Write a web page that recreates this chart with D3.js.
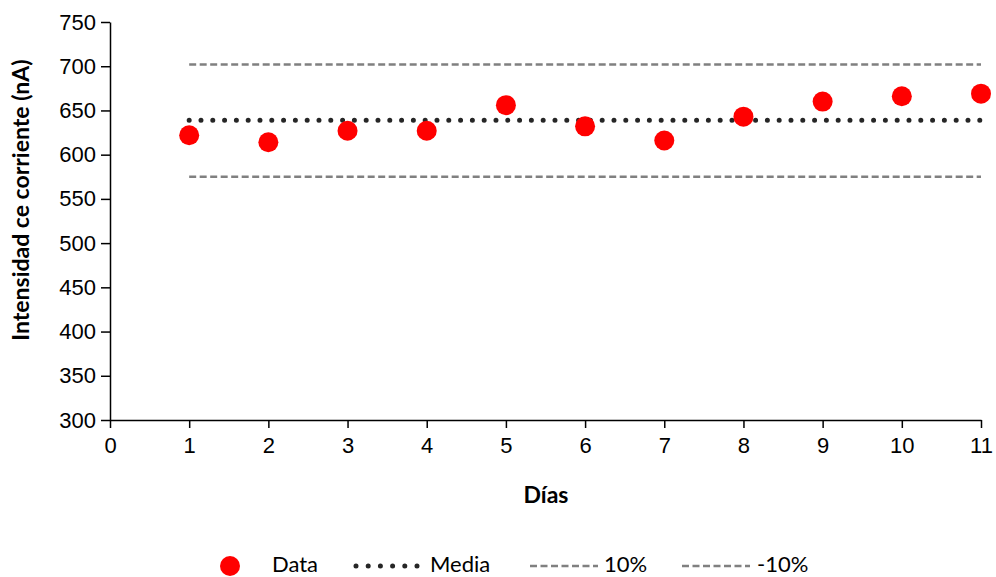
<!DOCTYPE html>
<html lang="es">
<head>
<meta charset="UTF-8">
<title>Intensidad de corriente</title>
<script src="https://cdnjs.cloudflare.com/ajax/libs/d3/7.8.5/d3.min.js"></script>
<style>
    body { margin: 0; background: #fff; }
    svg { display: block; font-family: Lato, "Open Sans", sans-serif; }
    .axis text { font-size: 22px; fill: #000; }
    .axis path, .axis line { stroke: #000; stroke-width: 1.5px; }
    .title { font-size: 23px; font-weight: bold; }
    .legend text { font-size: 22px; }
</style>
</head>
<body>
<svg id="chart" width="996" height="577"></svg>
<script>
    // data
    const days = [1, 2, 3, 4, 5, 6, 7, 8, 9, 10, 11];
    const current = [622, 614, 627, 627, 656, 632, 616, 643, 660, 666, 669];
    const mean = 639;
    const upper = 702;   // +10%
    const lower = 575;   // -10%
    const xTicks = d3.range(0, 12);
    const yTicks = d3.range(300, 751, 50);
    const legendLabels = ["Data", "Media", "10%", "-10%"];

    const svg = d3.select("#chart");
    const margin = {left: 110, top: 22, right: 15, bottom: 157};
    const height = 577 - margin.top - margin.bottom;

    const x = d3.scaleLinear().domain([0, 11]).range([0, 871]);
    const y = d3.scaleLinear().domain([300, 750]).range([height, 0]);

    const g = svg.append("g").attr("transform", `translate(${margin.left},${margin.top})`);

    g.append("g")
        .attr("class", "axis")
        .attr("transform", `translate(0,${height})`)
        .call(d3.axisBottom(x).tickValues(xTicks).tickSize(8).tickSizeOuter(0).tickPadding(8))
        .selectAll("text").attr("dy", "0.75em");

    g.append("g")
        .attr("class", "axis")
        .call(d3.axisLeft(y).tickValues(yTicks).tickSize(9).tickSizeOuter(0).tickPadding(5));

    const line = d3.line().x(d => x(d[0])).y(d => y(d[1]));
    const span = v => [[1, v], [11, v]];

    g.append("path")
        .attr("d", line(span(upper)))
        .attr("stroke", "#808080").attr("stroke-width", 2.5)
        .attr("stroke-dasharray", "7 3.5").attr("fill", "none");
    g.append("path")
        .attr("d", line(span(lower)))
        .attr("stroke", "#808080").attr("stroke-width", 2.5)
        .attr("stroke-dasharray", "7 3.5").attr("fill", "none");
    g.append("path")
        .attr("d", line(span(mean)))
        .attr("stroke", "#262626").attr("stroke-width", 5)
        .attr("stroke-linecap", "round")
        .attr("stroke-dasharray", "0 11.8").attr("fill", "none");

    g.selectAll("circle.pt")
        .data(days.map((d, i) => [d, current[i]]))
        .enter()
        .append("circle")
        .attr("class", "pt")
        .attr("cx", d => x(d[0]))
        .attr("cy", d => y(d[1]))
        .attr("r", 10)
        .attr("fill", "#ff0000");

    svg.append("text")
        .attr("class", "title")
        .attr("transform", "translate(29,200) rotate(-90)")
        .attr("text-anchor", "middle")
        .text("Intensidad ce corriente (nA)");

    svg.append("text")
        .attr("class", "title")
        .attr("x", 546).attr("y", 503)
        .attr("text-anchor", "middle")
        .text("Días");

    // legend
    const lg = svg.append("g").attr("class", "legend");
    const ly = 566;
    lg.append("circle").attr("cx", 230).attr("cy", ly).attr("r", 10).attr("fill", "#ff0000");
    lg.append("line").attr("x1", 356).attr("x2", 417).attr("y1", ly).attr("y2", ly)
        .attr("stroke", "#262626").attr("stroke-width", 5).attr("stroke-linecap", "round")
        .attr("stroke-dasharray", "0 12.2");
    lg.append("line").attr("x1", 530).attr("x2", 598).attr("y1", ly).attr("y2", ly)
        .attr("stroke", "#808080").attr("stroke-width", 2.5).attr("stroke-dasharray", "7 3.5");
    lg.append("line").attr("x1", 682).attr("x2", 750).attr("y1", ly).attr("y2", ly)
        .attr("stroke", "#808080").attr("stroke-width", 2.5).attr("stroke-dasharray", "7 3.5");
    const lx = [272, 430, 604, 757];
    lg.selectAll("text")
        .data(legendLabels)
        .enter()
        .append("text")
        .attr("x", (d, i) => lx[i])
        .attr("y", ly + 6)
        .text(d => d);
</script>
</body>
</html>
